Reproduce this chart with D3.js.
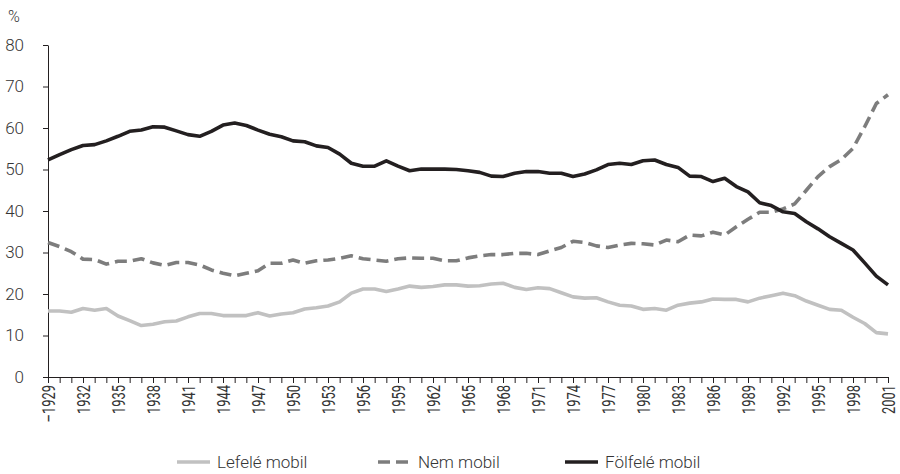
<!DOCTYPE html>
<html>
<head>
<meta charset="utf-8">
<script src="https://cdn.jsdelivr.net/npm/d3@7"></script>
<style>
  html, body { margin: 0; padding: 0; background: #fff; }
  svg text { font-family: Roboto, "Noto Sans", sans-serif; fill: #353535; }
</style>
</head>
<body>
<div id="chart"></div>
<script>
// years 1929..2001, one value per year
var years = d3.range(1929, 2002);
var tickLabelYears = d3.range(1929, 2002, 3);
var yTicks = [0, 10, 20, 30, 40, 50, 60, 70, 80];

var lefeleMobil = [
  15.9, 15.9, 15.6, 16.5, 16.1, 16.5, 14.7, 13.6, 12.4, 12.7,
  13.3, 13.5, 14.5, 15.3, 15.3, 14.8, 14.8, 14.8, 15.5, 14.7,
  15.2, 15.5, 16.4, 16.7, 17.1, 18.1, 20.2, 21.2, 21.2, 20.6,
  21.2, 21.9, 21.6, 21.8, 22.2, 22.2, 21.9, 22.0, 22.4, 22.6,
  21.6, 21.1, 21.5, 21.3, 20.3, 19.3, 19.0, 19.1, 18.1, 17.3,
  17.1, 16.3, 16.5, 16.1, 17.3, 17.8, 18.1, 18.8, 18.7, 18.7,
  18.1, 19.0, 19.6, 20.2, 19.6, 18.3, 17.3, 16.3, 16.1, 14.4,
  12.9, 10.7, 10.4
];
var nemMobil = [
  32.4, 31.4, 30.2, 28.4, 28.3, 27.2, 27.9, 27.9, 28.5, 27.5,
  26.9, 27.6, 27.6, 27.0, 25.8, 25.0, 24.4, 25.0, 25.6, 27.4,
  27.4, 28.2, 27.4, 28.0, 28.2, 28.6, 29.2, 28.5, 28.2, 27.9,
  28.5, 28.7, 28.6, 28.6, 28.0, 28.0, 28.7, 29.2, 29.5, 29.5,
  29.8, 29.8, 29.5, 30.4, 31.2, 32.7, 32.4, 31.6, 31.2, 31.8,
  32.2, 32.1, 31.8, 33.0, 32.6, 34.2, 34.0, 34.9, 34.2, 36.2,
  38.0, 39.7, 39.7, 40.5, 41.7, 45.0, 48.3, 50.7, 52.4, 55.1,
  60.3, 65.9, 68.0
];
var folfeleMobil = [
  52.3, 53.6, 54.8, 55.8, 56.0, 56.9, 58.0, 59.2, 59.5, 60.3,
  60.2, 59.3, 58.4, 58.0, 59.2, 60.7, 61.2, 60.6, 59.5, 58.5,
  57.9, 56.9, 56.7, 55.7, 55.3, 53.7, 51.5, 50.8, 50.8, 52.1,
  50.8, 49.7, 50.1, 50.1, 50.1, 50.0, 49.7, 49.3, 48.4, 48.3,
  49.1, 49.5, 49.5, 49.1, 49.1, 48.3, 48.9, 49.9, 51.2, 51.5,
  51.2, 52.1, 52.3, 51.2, 50.5, 48.4, 48.3, 47.1, 47.9, 45.9,
  44.6, 42.0, 41.3, 39.8, 39.4, 37.4, 35.7, 33.8, 32.2, 30.6,
  27.5, 24.3, 22.2
];

(function() {
  var width = 900;
  var height = 474;
  var margin = { left: 48, right: 12, top: 45, bottom: 97 };

  var series = [
    { name: 'Lefelé mobil', values: lefeleMobil, color: '#c1c1c1', dash: null, legendX: 177 },
    { name: 'Nem mobil', values: nemMobil, color: '#7d7d7d', dash: '12,6', legendX: 378 },
    { name: 'Fölfelé mobil', values: folfeleMobil, color: '#231f20', dash: null, legendX: 565 }
  ];

  var svg = d3.select('#chart').append('svg')
    .attr('width', width)
    .attr('height', height);

  var x = d3.scaleLinear()
    .domain([1929, 2001])
    .range([margin.left, width - margin.right]);
  var y = d3.scaleLinear()
    .domain([0, 80])
    .range([height - margin.bottom, margin.top]);

  renderAxes();
  renderLines();
  renderLegend();

  /*
   * y axis with % unit, x axis with a tick every year and a label every 3rd
   */
  function renderAxes() {
    var yAxis = svg.append('g')
      .attr('class', 'y-axis')
      .attr('transform', 'translate(' + margin.left + ',0)')
      .call(d3.axisLeft(y).tickValues(yTicks).tickSize(5).tickSizeOuter(0).tickPadding(19));
    yAxis.selectAll('text')
      .style('font-size', '17px')
      .style('font-weight', 300)
      .attr('font-family', null);
    yAxis.selectAll('path, line').attr('stroke', '#231f20');

    svg.append('text')
      .attr('x', 8)
      .attr('y', 22)
      .style('font-size', '16px')
      .style('font-weight', 300)
      .text('%');

    var xAxis = svg.append('g')
      .attr('class', 'x-axis')
      .attr('transform', 'translate(0,' + y(0) + ')')
      .call(d3.axisBottom(x)
        .tickValues(years)
        .tickSize(6)
        .tickSizeOuter(0)
        .tickFormat(function(d) {
          if (tickLabelYears.indexOf(d) === -1) {
            return '';
          }
          return d === 1929 ? '–1929' : String(d);
        }));
    xAxis.selectAll('path, line').attr('stroke', '#231f20');
    // condensed look: squeeze along the text direction
    xAxis.selectAll('text')
      .attr('font-family', null)
      .attr('dy', null)
      .attr('y', 0)
      .attr('text-anchor', 'end')
      .attr('dominant-baseline', 'central')
      .attr('transform', 'translate(0,8) rotate(-90) scale(0.68,1)')
      .style('font-size', '19px')
      .style('font-weight', 400);
  }

  function renderLines() {
    var line = d3.line()
      .x(function(d, i) { return x(years[i]); })
      .y(function(d) { return y(d); });

    svg.append('g')
      .attr('class', 'lines')
      .selectAll('path')
      .data(series)
      .enter().append('path')
      .attr('fill', 'none')
      .attr('stroke', function(d) { return d.color; })
      .attr('stroke-width', 3.6)
      .attr('stroke-linejoin', 'round')
      .attr('stroke-dasharray', function(d) { return d.dash; })
      .attr('d', function(d) { return line(d.values); });
  }

  /*
   * Legend at the bottom, swatch + label
   */
  function renderLegend() {
    var legendY = 462;
    var item = svg.append('g')
      .attr('class', 'legend')
      .selectAll('g')
      .data(series)
      .enter().append('g')
      .attr('transform', function(d) { return 'translate(' + d.legendX + ',' + legendY + ')'; });

    item.append('line')
      .attr('x1', 0)
      .attr('x2', 33)
      .attr('stroke', function(d) { return d.color; })
      .attr('stroke-width', 3.6)
      .attr('stroke-dasharray', function(d) { return d.dash; });

    item.append('text')
      .attr('x', 40)
      .attr('dy', '0.35em')
      .style('font-size', '17px')
      .style('font-weight', 300)
      .text(function(d) { return d.name; });
  }
}).call(this);
</script>
</body>
</html>
